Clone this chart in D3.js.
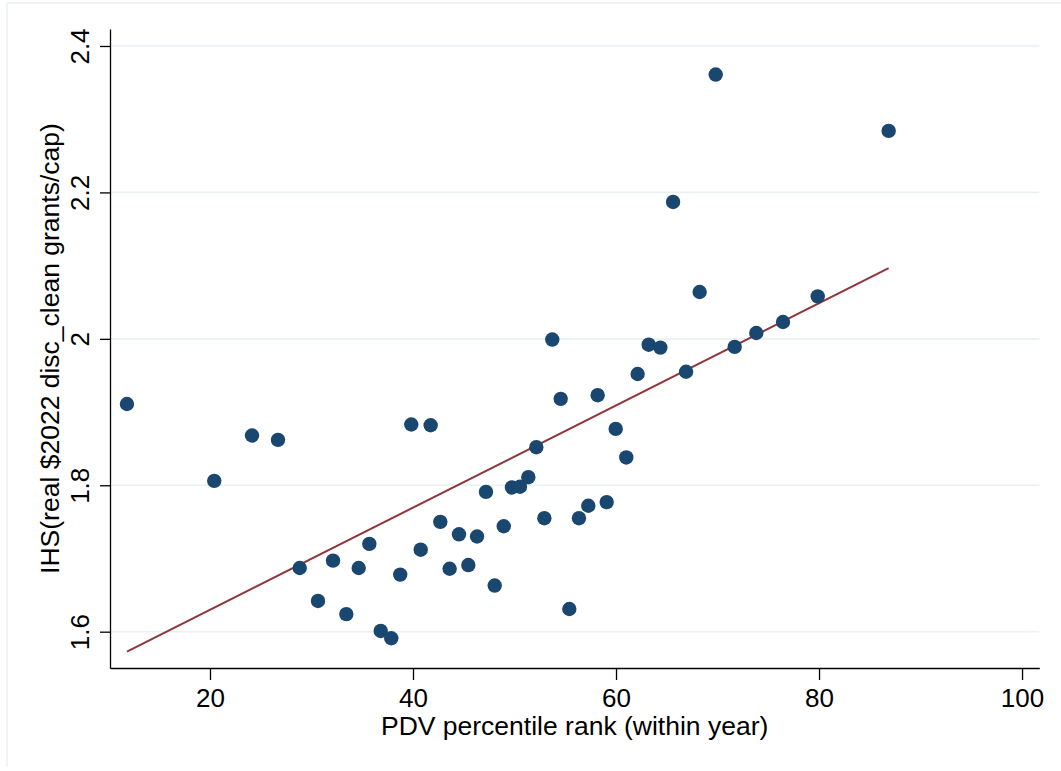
<!DOCTYPE html>
<html>
<head>
<meta charset="utf-8">
<script src="https://cdn.jsdelivr.net/npm/d3@7"></script>
<style>
  html, body { margin: 0; padding: 0; background: #fff; }
  svg { display: block; font-family: "Liberation Sans", Arial, Helvetica, sans-serif; }
</style>
</head>
<body>
<svg id="chart" width="1061" height="771"></svg>
<script>
// Binned scatter: PDV percentile rank (x) vs IHS of grants per capita (y)
const binX = [11.82, 20.42, 24.14, 26.70, 28.84, 30.64, 32.12, 33.43, 34.65, 35.70,
              36.82, 37.86, 38.74, 39.83, 40.76, 41.74, 42.69, 43.61, 44.53, 45.45,
              46.31, 47.19, 48.05, 48.94, 49.75, 50.54, 51.36, 52.15, 52.94, 53.72,
              54.55, 55.40, 56.35, 57.27, 58.19, 59.08, 59.97, 61.01, 62.13, 63.22,
              64.37, 65.62, 66.90, 68.24, 69.82, 71.69, 73.82, 76.45, 79.87, 86.86];
const binY = [1.911, 1.806, 1.868, 1.862, 1.687, 1.642, 1.697, 1.624, 1.687, 1.720,
              1.601, 1.591, 1.678, 1.883, 1.712, 1.882, 1.750, 1.686, 1.733, 1.691,
              1.730, 1.791, 1.663, 1.744, 1.797, 1.798, 1.811, 1.852, 1.755, 1.999,
              1.918, 1.631, 1.755, 1.772, 1.923, 1.777, 1.877, 1.838, 1.952, 1.992,
              1.988, 2.187, 1.955, 2.064, 2.361, 1.989, 2.008, 2.023, 2.058, 2.284];
// Linear fit endpoints
const fitX = [11.82, 86.86];
const fitY = [1.5727, 2.0966];
const xTicks = [20, 40, 60, 80, 100];
const yTicks = [1.6, 1.8, 2.0, 2.2, 2.4];
const yTickLabels = ["1.6", "1.8", "2", "2.2", "2.4"];
const xTitle = "PDV percentile rank (within year)";
const yTitle = "IHS(real $2022 disc_clean grants/cap)";

const svg = d3.select("#chart");
const L = 110, R = 1039.3, T = 29, B = 668;
const x = d3.scaleLinear().domain([10.15, 101.7]).range([L, R]);
const y = d3.scaleLinear().domain([1.5504, 2.4232]).range([B, T]);

const gridColor = "#e9f1f2";
const dotColor = "#1a476f";
const lineColor = "#90353b";
const fs = 26;

// outer frame (top & left edges visible)
svg.append("line").attr("x1", 7).attr("x2", 1061).attr("y1", 3).attr("y2", 3)
  .attr("stroke", gridColor).attr("stroke-width", 1.5);
svg.append("line").attr("x1", 7).attr("x2", 7).attr("y1", 3).attr("y2", 767)
  .attr("stroke", gridColor).attr("stroke-width", 1.5);

// gridlines
svg.append("g").selectAll("line").data(yTicks).join("line")
  .attr("x1", L).attr("x2", R)
  .attr("y1", d => y(d)).attr("y2", d => y(d))
  .attr("stroke", gridColor).attr("stroke-width", 1.6);

// fit line
svg.append("path")
  .datum(fitX.map((d, i) => [d, fitY[i]]))
  .attr("d", d3.line().x(d => x(d[0])).y(d => y(d[1])))
  .attr("fill", "none").attr("stroke", lineColor).attr("stroke-width", 2);

// points
svg.append("g").selectAll("circle").data(binX.map((d, i) => [d, binY[i]])).join("circle")
  .attr("cx", d => x(d[0])).attr("cy", d => y(d[1])).attr("r", 7.2)
  .attr("fill", dotColor);

// x axis
const gx = svg.append("g").attr("transform", `translate(0,${B})`)
  .call(d3.axisBottom(x).tickValues(xTicks).tickSize(12).tickSizeOuter(0).tickPadding(8));
gx.select(".domain").attr("stroke", "#000").attr("stroke-width", 1.3);
gx.selectAll(".tick line").attr("stroke", "#000").attr("stroke-width", 1.3);
gx.selectAll(".tick text").attr("font-size", fs).attr("fill", "#000")
  .attr("font-family", "Liberation Sans, Arial, sans-serif")
  .attr("dy", null).attr("y", 39);

// y axis
const gy = svg.append("g").attr("transform", `translate(${L},0)`)
  .call(d3.axisLeft(y).tickValues(yTicks).tickFormat((d, i) => yTickLabels[i])
        .tickSize(10).tickSizeOuter(0));
gy.select(".domain").attr("stroke", "#000").attr("stroke-width", 1.3);
gy.selectAll(".tick line").attr("stroke", "#000").attr("stroke-width", 1.3);
gy.selectAll(".tick text").attr("font-size", fs).attr("fill", "#000")
  .attr("font-family", "Liberation Sans, Arial, sans-serif")
  .attr("x", null).attr("dy", null)
  .attr("text-anchor", "middle")
  .attr("transform", "translate(-21,0) rotate(-90)");

// titles
svg.append("text").attr("x", (L + R) / 2).attr("y", 735)
  .attr("text-anchor", "middle").attr("font-size", 26.5).attr("fill", "#000")
  .text(xTitle);
svg.append("text")
  .attr("transform", `translate(59,${(T + B) / 2}) rotate(-90)`)
  .attr("text-anchor", "middle").attr("font-size", 26.5).attr("fill", "#000")
  .text(yTitle);
</script>
</body>
</html>
